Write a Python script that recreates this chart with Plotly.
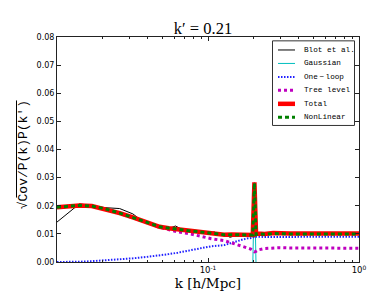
import plotly.graph_objects as go

# ---------------- data ----------------
k = [0.010, 0.012, 0.0141, 0.017, 0.0211, 0.026, 0.0318, 0.039, 0.0478, 0.055,
     0.063, 0.0775, 0.086, 0.093, 0.105, 0.117, 0.128, 0.143, 0.158, 0.170,
     0.183, 0.192, 0.198, 0.203, 0.208, 0.215, 0.237, 0.27, 0.30, 0.35,
     0.40, 0.50, 0.60, 0.70, 0.80, 0.90, 1.00]

total = [0.0195, 0.0197, 0.0201, 0.0199, 0.0188, 0.0174, 0.0159, 0.0142, 0.0125, 0.0120,
         0.0116, 0.0110, 0.0108, 0.0106, 0.0102, 0.0100, 0.0097, 0.0098, 0.0097, 0.0098,
         0.0096, 0.0095, 0.0096, 0.0283, 0.0099, 0.0101, 0.0100, 0.0103, 0.0101, 0.0101,
         0.0101, 0.0101, 0.0101, 0.0101, 0.0101, 0.0101, 0.0101]

nonlinear = [0.0195, 0.0197, 0.0201, 0.0199, 0.0188, 0.0174, 0.0159, 0.0142, 0.0125, 0.0120,
             0.0116, 0.0110, 0.0108, 0.0106, 0.0102, 0.0100, 0.0097, 0.0097, 0.0097, 0.0097,
             0.0096, 0.0095, 0.0096, 0.0281, 0.0098, 0.0100, 0.0099, 0.0101, 0.0100, 0.0100,
             0.0100, 0.0100, 0.0100, 0.0100, 0.0100, 0.0100, 0.0100]

tree_level = [0.0195, 0.0197, 0.0200, 0.0198, 0.0187, 0.0173, 0.0158, 0.0141, 0.0123, 0.0115,
              0.0107, 0.0099, 0.0093, 0.0091, 0.0083, 0.0079, 0.0076, 0.0068, 0.0060, 0.0056,
              0.0051, 0.0046, 0.0041, 0.0036, 0.0038, 0.0043, 0.0048, 0.0051, 0.0051, 0.0050,
              0.0050, 0.0050, 0.0050, 0.0049, 0.0049, 0.0049, 0.0049]

one_loop = [0.0000, 0.0000, 0.0001, 0.0003, 0.0006, 0.0009, 0.0013, 0.0018, 0.0023, 0.0028,
            0.0033, 0.0042, 0.0047, 0.0051, 0.0056, 0.0058, 0.0060, 0.0068, 0.0076, 0.0080,
            0.0084, 0.0085, 0.0086, 0.0090, 0.0091, 0.0090, 0.0089, 0.0089, 0.0089, 0.0089,
            0.0089, 0.0090, 0.0090, 0.0090, 0.0090, 0.0090, 0.0090]

# Gaussian term is only non-zero on the diagonal k = k'
k_gauss = [0.198, 0.203, 0.208]
gaussian = [-0.001, 0.0283, -0.001]

k_blot = [0.010, 0.0141, 0.017, 0.0211, 0.026, 0.0318, 0.035, 0.039, 0.044, 0.050,
          0.056, 0.061, 0.065, 0.070, 0.080, 0.090, 0.100, 0.110, 0.118, 0.130,
          0.140, 0.155, 0.170, 0.185, 0.200, 0.210]
blot = [0.0142, 0.0207, 0.0200, 0.0193, 0.0190, 0.0171, 0.0154, 0.0140, 0.0128, 0.0121,
        0.0121, 0.0128, 0.0120, 0.0114, 0.0110, 0.0106, 0.0102, 0.0107, 0.0099, 0.0096,
        0.0088, 0.0095, 0.0096, 0.0093, 0.0090, 0.0093]

y_ticks = [0.00, 0.01, 0.02, 0.03, 0.04, 0.05, 0.06, 0.07, 0.08]
x_ticks = [0.1, 1.0]
x_tick_labels = ["10<sup>-1</sup>", "10<sup>0</sup>"]
x_minor = [0.02, 0.03, 0.04, 0.05, 0.06, 0.07, 0.08, 0.09,
           0.2, 0.3, 0.4, 0.5, 0.6, 0.7, 0.8, 0.9]

# ---------------- figure ----------------
W, H = 390, 293
ML, MR, MT, MB = 49, 39, 29, 30
PW, PH = W - ML - MR, H - MT - MB


def px(xp):
    return (xp - ML) / PW


def py(yp):
    return (H - MB - yp) / PH


styles = [
    ("Blot et al.", k_blot, blot, dict(color="black", width=1)),
    ("Gaussian", k_gauss, gaussian, dict(color="#00bfbf", width=1)),
    ("One-loop", k, one_loop, dict(color="#2020ff", width=2, dash="1.5px,1.5px")),
    ("Tree level", k, tree_level, dict(color="#bf00bf", width=3, dash="3px,3px")),
    ("Total", k, total, dict(color="#ff0000", width=4.5)),
    ("NonLinear", k, nonlinear, dict(color="#008000", width=3, dash="4px,3px")),
]

fig = go.Figure()
for name, xs, ys, ln in styles:
    fig.add_trace(go.Scatter(x=xs, y=ys, mode="lines", name=name, line=ln,
                             showlegend=False))

# manual legend (matplotlib-like compact box)
legend_names = ["Blot et al.", "Gaussian", "One\u2009\u2212\u2009loop", "Tree level", "Total", "NonLinear"]
leg_y = [42.5, 56.5, 70.5, 84.5, 98.5, 112.5]
shapes = [dict(type="rect", xref="paper", yref="paper",
               x0=px(264.5), x1=px(346.5), y0=py(121), y1=py(33),
               line=dict(color="#333", width=1), fillcolor="white", layer="above")]
annotations = []
for (name, xs, ys, ln), lab, yy in zip(styles, legend_names, leg_y):
    shapes.append(dict(type="line", xref="paper", yref="paper",
                       x0=px(270), x1=px(287), y0=py(yy), y1=py(yy),
                       line=ln, layer="above"))
    annotations.append(dict(text=lab, xref="paper", yref="paper", x=px(294), y=py(yy),
                            xanchor="left", yanchor="middle", showarrow=False,
                            font=dict(family="Liberation Mono", size=7.7, color="black")))

# y label with radical vinculum
annotations.append(dict(text="\u221aCov/P(k)P(k\u2032)", xref="paper", yref="paper",
                        x=px(15), y=py(152), xanchor="center", yanchor="middle",
                        textangle=-90, showarrow=False,
                        font=dict(family="Liberation Mono", size=13, color="black")))
shapes.append(dict(type="line", xref="paper", yref="paper",
                   x0=px(8.5), x1=px(8.5), y0=py(196), y1=py(95),
                   line=dict(color="black", width=1)))

fig.update_layout(
    width=W, height=H,
    margin=dict(l=ML, r=MR, t=MT, b=MB),
    paper_bgcolor="white", plot_bgcolor="white",
    title=dict(text="k\u2032 = 0.21", x=px(200), xanchor="center", y=1 - 20 / H,
               yanchor="middle", font=dict(family="Liberation Serif", size=16.5, color="black")),
    shapes=shapes, annotations=annotations,
    showlegend=False,
)
fig.update_xaxes(type="log", range=[-2, 0],
                 tickvals=x_ticks, ticktext=x_tick_labels,
                 ticks="inside", ticklen=4, tickcolor="#222",
                 showline=True, linecolor="#222", linewidth=1, mirror="allticks",
                 showgrid=False, zeroline=False,
                 tickfont=dict(family="DejaVu Sans", size=8.5, color="black"),
                 minor=dict(tickvals=x_minor, ticks="inside", ticklen=2,
                            tickcolor="#222", showgrid=False),
                 title=dict(text="k [h/Mpc]", standoff=4,
                            font=dict(family="DejaVu Serif", size=13.5, color="black")))
fig.update_yaxes(range=[0, 0.08], tickvals=y_ticks, tickformat=".2f",
                 ticks="inside", ticklen=4, tickcolor="#222",
                 showline=True, linecolor="#222", linewidth=1, mirror="allticks",
                 showgrid=False, zeroline=False,
                 tickfont=dict(family="DejaVu Sans", size=8, color="black"))

fig.write_html("out.html")
